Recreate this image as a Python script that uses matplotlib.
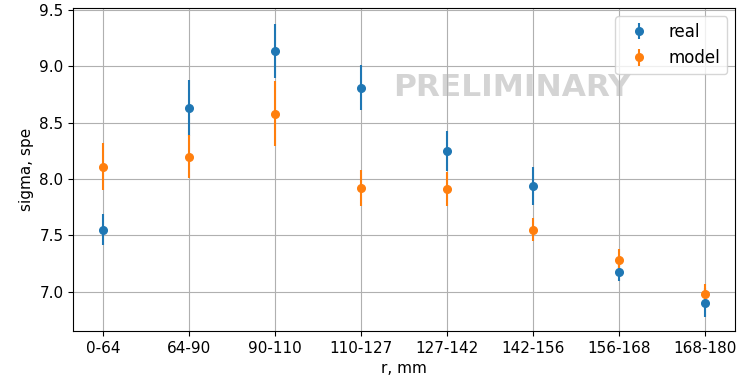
import matplotlib.pyplot as plt

# radial bins
r_bins = ["0-64", "64-90", "90-110", "110-127", "127-142", "142-156", "156-168", "168-180"]

# measured sigma and its error
sigma_real = [7.55, 8.63, 9.14, 8.81, 8.25, 7.94, 7.17, 6.90]
err_real = [0.14, 0.25, 0.24, 0.20, 0.18, 0.17, 0.08, 0.13]

# simulated sigma and its error
sigma_model = [8.11, 8.20, 8.58, 7.92, 7.91, 7.55, 7.28, 6.98]
err_model = [0.21, 0.19, 0.29, 0.16, 0.15, 0.10, 0.10, 0.09]

fig = plt.figure(figsize=(7.39, 3.77), dpi=100)
ax = fig.add_axes([0.099, 0.122, 0.896, 0.857])

ax.errorbar(r_bins, sigma_real, yerr=err_real, fmt="o", ms=5.5, elinewidth=1.5, label="real")
ax.errorbar(r_bins, sigma_model, yerr=err_model, fmt="o", ms=5.5, elinewidth=1.5, label="model")

# watermark behind the points
ax.text(0.662, 0.754, "PRELIMINARY", transform=ax.transAxes, ha="center", va="center",
        fontsize=22.5, fontweight="bold", color="#d4d4d4", zorder=0.5)

ax.set_ylim(6.65, 9.52)
ax.set_yticks([7.0, 7.5, 8.0, 8.5, 9.0, 9.5])
ax.tick_params(labelsize=11)
ax.set_xlabel("r, mm", fontsize=11)
ax.set_ylabel("sigma, spe", fontsize=11)
ax.grid(True)
ax.legend(loc="upper right", fontsize=12)

plt.savefig("out.png")
